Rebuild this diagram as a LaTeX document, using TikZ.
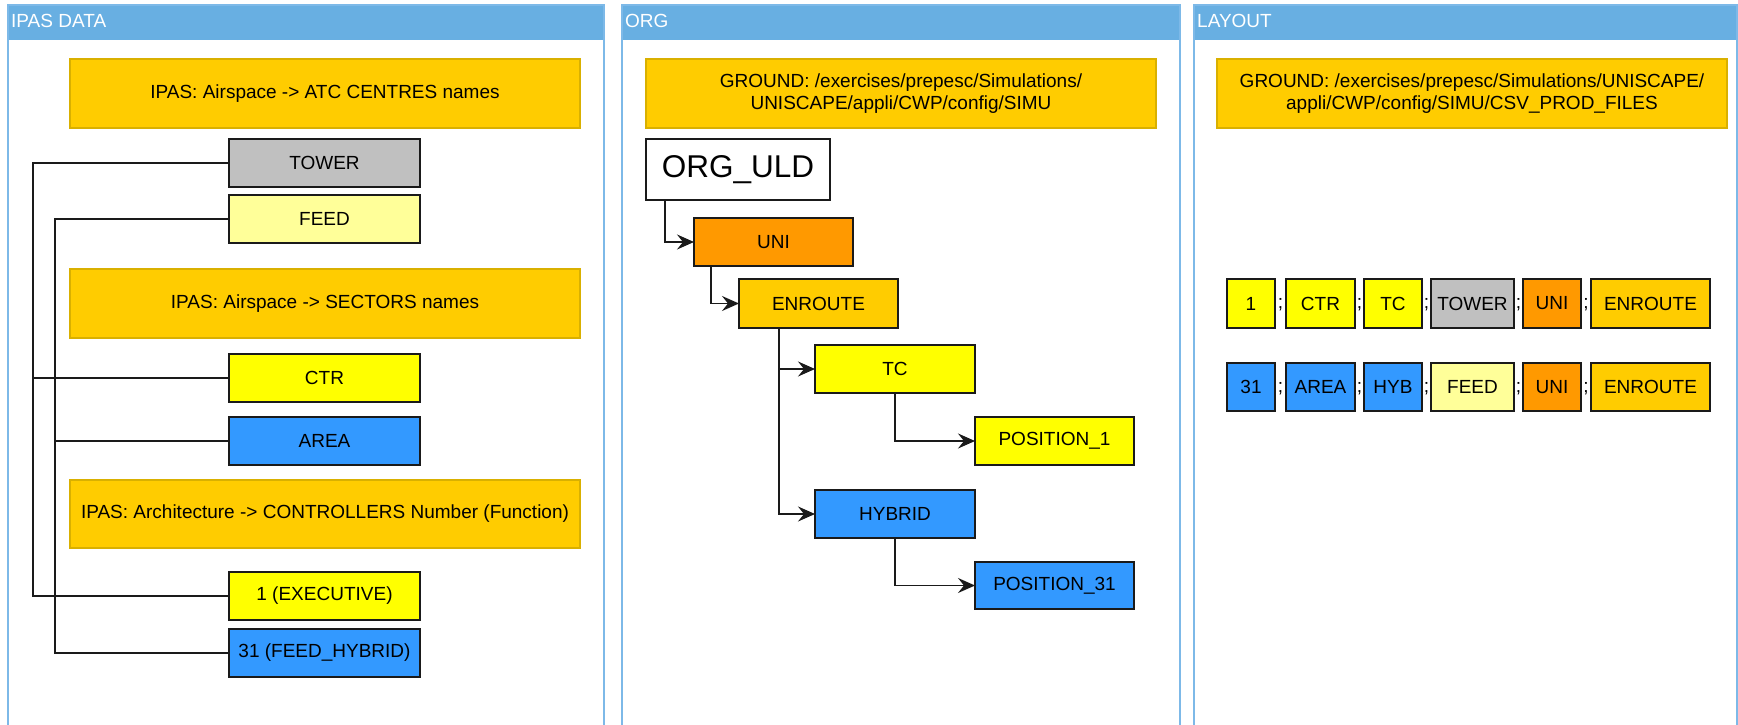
\documentclass[tikz,border=0pt]{standalone}
\usepackage{fontspec}
\setmainfont{Liberation Sans}
\usetikzlibrary{arrows.meta}
\definecolor{hdr}{HTML}{68AFE2}
\definecolor{frameline}{HTML}{7DB9E8}
\definecolor{gold}{HTML}{FFCC00}
\definecolor{goldline}{HTML}{D9B000}
\definecolor{yel}{HTML}{FFFF00}
\definecolor{lightyel}{HTML}{FFFF99}
\definecolor{blu}{HTML}{3399FF}
\definecolor{orng}{HTML}{FF9900}
\definecolor{gry}{HTML}{C0C0C0}
\definecolor{ink}{HTML}{1A1A1A}

% box from its corners: name, x1, y1, x2, y2, style, text
\newcommand\mkbox[7]{\node[#6, minimum width={(#4-#2)*1pt}, minimum height={(#5-#3)*1pt}] (#1) at ({(#2+#4)/2},{(#3+#5)/2}) {#7};}
% swimlane panel: name, left x, right x, title
\newcommand\mkpanel[4]{%
  \fill[hdr] (#2,5) rectangle (#3,40);
  \draw[frameline, line width=2pt] (#2,725) -- (#2,5) -- (#3,5) -- (#3,725);
  \node[anchor=base west, inner sep=0pt, text=white, font=\fontsize{19}{22}\selectfont] (#1) at (#2+3,28) {#4};}

\begin{document}
\begin{tikzpicture}[x=1pt, y=-1pt,
  base/.style={draw=ink, line width=1.5pt, inner sep=0pt, outer sep=0pt, align=center,
               text=black, font=\fontsize{19}{22}\selectfont},
  banner/.style={base, fill=gold, draw=goldline, line width=1.2pt},
  yelbox/.style={base, fill=yel},
  lyelbox/.style={base, fill=lightyel},
  blubox/.style={base, fill=blu},
  orngbox/.style={base, fill=orng},
  goldbox/.style={base, fill=gold},
  grybox/.style={base, fill=gry},
  whitebox/.style={base, fill=white, font=\fontsize{31.5}{36}\selectfont},
  semi/.style={inner sep=0pt, font=\fontsize{19}{22}\selectfont},
  wire/.style={draw=ink, line width=1.5pt},
  arr/.style={wire, -{Stealth[length=17pt, width=15pt, inset=6pt]}}
]
\useasboundingbox (0,0) rectangle (1738,725);
\fill[white] (0,0) rectangle (1738,725);

% ---------- IPAS DATA ----------
\mkpanel{p1}{8}{604}{IPAS DATA}
\mkbox{b1}{70}{59}{580}{128}{banner}{IPAS: Airspace -> ATC CENTRES names}
\mkbox{tower}{229}{139}{420}{187}{grybox}{TOWER}
\mkbox{feed}{229}{195}{420}{243}{lyelbox}{FEED}
\mkbox{b2}{70}{269}{580}{338}{banner}{IPAS: Airspace -> SECTORS names}
\mkbox{ctr}{229}{354}{420}{402}{yelbox}{CTR}
\mkbox{area}{229}{417}{420}{465}{blubox}{AREA}
\mkbox{b3}{70}{480}{580}{548}{banner}{IPAS: Architecture -> CONTROLLERS Number (Function)}
\mkbox{exec}{229}{572}{420}{620}{yelbox}{1 (EXECUTIVE)}
\mkbox{fh}{229}{629}{420}{677}{blubox}{31 (FEED\_HYBRID)}

\coordinate (railA) at (33,0);
\coordinate (railB) at (55,0);
\draw[wire] (tower.west) -- (tower.west -| railA) -- (exec.west -| railA) -- (exec.west);
\draw[wire] (ctr.west) -- (ctr.west -| railA);
\draw[wire] (feed.west) -- (feed.west -| railB) -- (fh.west -| railB) -- (fh.west);
\draw[wire] (area.west) -- (area.west -| railB);

% ---------- ORG ----------
\mkpanel{p2}{622}{1180}{ORG}
\mkbox{g2}{646}{59}{1156}{128}{banner}{GROUND: /exercises/prepesc/Simulations/\\UNISCAPE/appli/CWP/config/SIMU}
\mkbox{orguld}{646}{139}{830}{200}{whitebox}{ORG\_ULD}
\mkbox{uni}{694}{218}{853}{266}{orngbox}{UNI}
\mkbox{enr}{739}{279}{898}{328}{goldbox}{ENROUTE}
\mkbox{tc}{815}{345}{975}{393}{yelbox}{TC}
\mkbox{pos1}{975}{417}{1134}{465}{yelbox}{POSITION\_1}
\mkbox{hyb}{815}{490}{975}{538}{blubox}{HYBRID}
\mkbox{pos31}{975}{562}{1134}{609}{blubox}{POSITION\_31}

\draw[arr] ([xshift=19pt]orguld.south west) |- (uni.west);
\draw[arr] ([xshift=17pt]uni.south west) |- (enr.west);
\draw[arr] ([xshift=40pt]enr.south west) |- (tc.west);
\draw[arr] ([xshift=40pt]enr.south west) |- (hyb.west);
\draw[arr] (tc.south) |- (pos1.west);
\draw[arr] (hyb.south) |- (pos31.west);

% ---------- LAYOUT ----------
\mkpanel{p3}{1194}{1737}{LAYOUT}
\mkbox{g3}{1217}{59}{1727}{128}{banner}{GROUND: /exercises/prepesc/Simulations/UNISCAPE/\\appli/CWP/config/SIMU/CSV\_PROD\_FILES}

\mkbox{ra1}{1227}{279}{1275}{328}{yelbox}{1}
\mkbox{ra2}{1286}{279}{1355}{328}{yelbox}{CTR}
\mkbox{ra3}{1364}{279}{1422}{328}{yelbox}{TC}
\mkbox{ra4}{1431}{279}{1514}{328}{grybox}{TOWER}
\mkbox{ra5}{1523}{279}{1581}{328}{orngbox}{UNI}
\mkbox{ra6}{1591}{279}{1710}{328}{goldbox}{ENROUTE}
\node[semi] (sa1) at (1280.5,305) {;};
\node[semi] (sa2) at (1359.5,305) {;};
\node[semi] (sa3) at (1426.5,305) {;};
\node[semi] (sa4) at (1518.5,305) {;};
\node[semi] (sa5) at (1586,305) {;};

\mkbox{rb1}{1227}{363}{1275}{411}{blubox}{31}
\mkbox{rb2}{1286}{363}{1355}{411}{blubox}{AREA}
\mkbox{rb3}{1364}{363}{1422}{411}{blubox}{HYB}
\mkbox{rb4}{1431}{363}{1514}{411}{lyelbox}{FEED}
\mkbox{rb5}{1523}{363}{1581}{411}{orngbox}{UNI}
\mkbox{rb6}{1591}{363}{1710}{411}{goldbox}{ENROUTE}
\node[semi] (sb1) at (1280.5,389) {;};
\node[semi] (sb2) at (1359.5,389) {;};
\node[semi] (sb3) at (1426.5,389) {;};
\node[semi] (sb4) at (1518.5,389) {;};
\node[semi] (sb5) at (1586,389) {;};
\end{tikzpicture}
\end{document}
